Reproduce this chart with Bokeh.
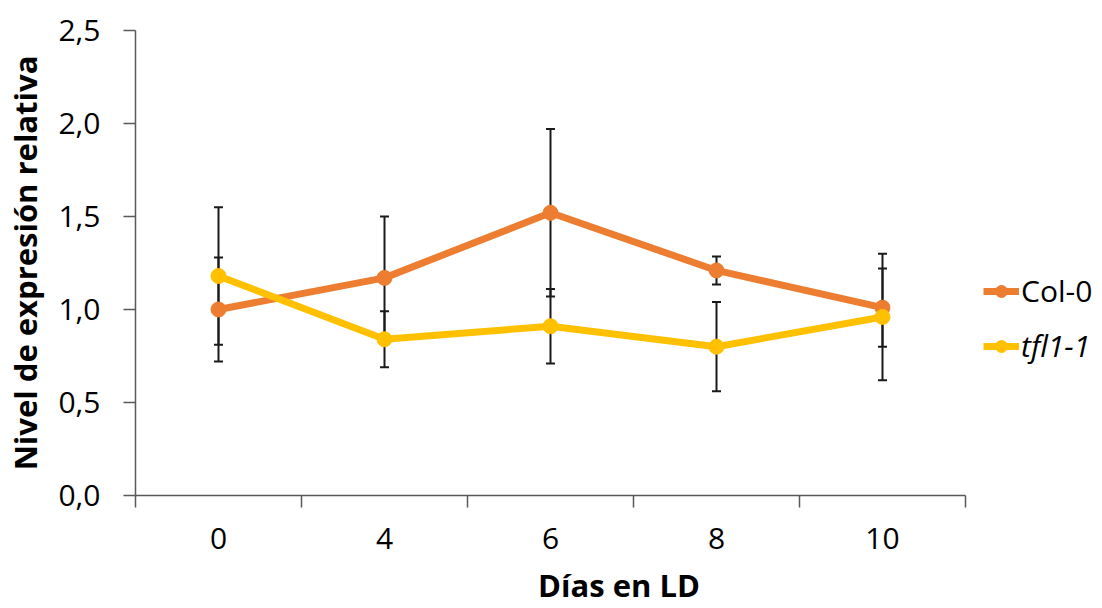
from bokeh.plotting import figure
from bokeh.models import (Range1d, FixedTicker, Whisker, TeeHead, ColumnDataSource,
                          Legend, LegendItem)
from bokeh.embed import file_html
from bokeh.resources import INLINE

days = ["0", "4", "6", "8", "10"]
col0 = [1.00, 1.17, 1.52, 1.21, 1.01]
col0_err = [0.28, 0.33, 0.45, 0.075, 0.21]
tfl1 = [1.18, 0.84, 0.91, 0.80, 0.96]
tfl1_err = [0.37, 0.15, 0.20, 0.24, 0.34]
y_ticks = [0.0, 0.5, 1.0, 1.5, 2.0, 2.5]
y_tick_labels = ["0,0", "0,5", "1,0", "1,5", "2,0", "2,5"]

ORANGE = "#ED7D31"
YELLOW = "#FFC000"
AXIS = "#595959"
FONT = "Open Sans"

n = len(days)
xpos = [i + 0.5 for i in range(n)]

W, H = 1102, 608
LEFT, TOP, BOTTOM = 135, 30, 112
axis_px = 830.0                      # pixel length of the category axis
frame_w = W - LEFT                   # frame extends to the right edge (room for legend)
x_end = n * frame_w / axis_px

p = figure(width=W, height=H, output_backend="svg", toolbar_location=None,
           x_range=Range1d(0, x_end), y_range=Range1d(0, 2.5),
           min_border_left=LEFT, min_border_right=0, min_border_top=TOP,
           min_border_bottom=BOTTOM)
p.outline_line_color = None
p.xgrid.visible = False
p.ygrid.visible = False
p.background_fill_color = "white"
p.border_fill_color = "white"

# axes
p.xaxis.bounds = (0, n)
p.xaxis.ticker = FixedTicker(ticks=xpos, minor_ticks=list(range(n + 1)))
p.xaxis.major_label_overrides = {x: d for x, d in zip(xpos, days)}
p.xaxis.major_tick_line_color = None
p.xaxis.minor_tick_out = 12
p.xaxis.minor_tick_in = 0
p.xaxis.minor_tick_line_color = AXIS
p.xaxis.minor_tick_line_width = 1.5
p.xaxis.axis_line_color = AXIS
p.xaxis.axis_line_width = 1.5
p.xaxis.major_label_standoff = 20
p.xaxis.axis_label = "Días en LD"

p.yaxis.ticker = FixedTicker(ticks=y_ticks, minor_ticks=[])
p.yaxis.major_label_overrides = {t: l for t, l in zip(y_ticks, y_tick_labels)}
p.yaxis.major_tick_out = 12
p.yaxis.major_tick_in = 0
p.yaxis.major_tick_line_color = AXIS
p.yaxis.major_tick_line_width = 1.5
p.yaxis.axis_line_color = AXIS
p.yaxis.axis_line_width = 1.5
p.yaxis.major_label_standoff = 23
p.yaxis.axis_label = "Nivel de expresión relativa"

for ax in (p.xaxis[0], p.yaxis[0]):
    ax.major_label_text_font = FONT
    ax.major_label_text_font_size = "30px"
    ax.major_label_text_color = "black"
    ax.axis_label_text_font = FONT
    ax.axis_label_text_font_size = "31px"
    ax.axis_label_text_font_style = "bold"
    ax.axis_label_text_color = "black"
p.xaxis.axis_label_standoff = 12
p.yaxis.axis_label_standoff = 9

src_c = ColumnDataSource(dict(x=xpos, y=col0,
                              lo=[v - e for v, e in zip(col0, col0_err)],
                              hi=[v + e for v, e in zip(col0, col0_err)]))
src_t = ColumnDataSource(dict(x=xpos, y=tfl1,
                              lo=[v - e for v, e in zip(tfl1, tfl1_err)],
                              hi=[v + e for v, e in zip(tfl1, tfl1_err)]))

lc = p.line("x", "y", source=src_c, color=ORANGE, line_width=7)
mc = p.scatter("x", "y", source=src_c, size=15, color=ORANGE)
lt = p.line("x", "y", source=src_t, color=YELLOW, line_width=7)
mt = p.scatter("x", "y", source=src_t, size=15, color=YELLOW)

for src in (src_c, src_t):
    w = Whisker(source=src, base="x", lower="lo", upper="hi",
                line_color="#1a1a1a", line_width=2,
                upper_head=TeeHead(size=9, line_color="#1a1a1a", line_width=2),
                lower_head=TeeHead(size=9, line_color="#1a1a1a", line_width=2))
    p.add_layout(w)

leg1 = Legend(items=[LegendItem(label="Col-0", renderers=[lc, mc])],
              location=(848, 184))
leg2 = Legend(items=[LegendItem(label="tfl1-1", renderers=[lt, mt])],
              location=(848, 129))
for lg in (leg1, leg2):
    lg.label_text_font = FONT
    lg.label_text_font_size = "30px"
    lg.label_text_color = "black"
    lg.border_line_color = None
    lg.background_fill_alpha = 0
    lg.glyph_width = 36
    lg.glyph_height = 30
    lg.label_height = 30
    lg.label_standoff = 2
    lg.padding = 0
    lg.margin = 0
    p.add_layout(lg, "center")
leg2.label_text_font_style = "italic"

open("out.html", "w").write(file_html(p, INLINE))
